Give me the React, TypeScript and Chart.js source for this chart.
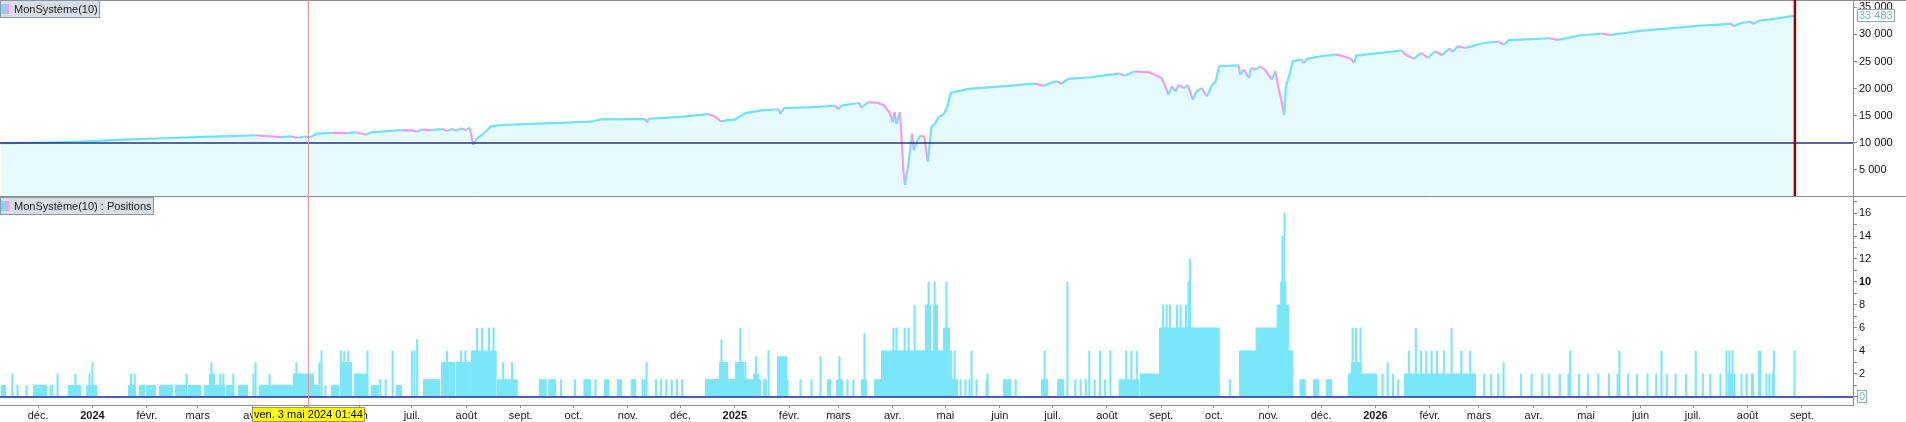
import { useEffect, useRef } from "react";
import { Chart, registerables } from "chart.js";

Chart.register(...registerables);

const FONT = "'Liberation Sans', Arial, Helvetica, sans-serif";
Chart.defaults.font.family = FONT;
Chart.defaults.font.size = 11;
Chart.defaults.color = "#111";

const CYAN = "#6fe2f6";
const PINK = "#f59bee";
const AREA = "#e6fbfe";
const BARS = "#7ae6f9";
const NAVY = "#27308f";
const FRAME = "#8d8d8d";

// x runs in days counted from 1 Jan 2024
const X_MIN = -52.7;
const X_MAX = 1003.1;
const DAY_MS = 86400000;
const EPOCH = Date.UTC(2024, 0, 1);
const SPIKE_HALF = 0.3;

const monthNames = ["janv.", "févr.", "mars", "avr.", "mai", "juin", "juil.", "août", "sept.", "oct.", "nov.", "déc."];
const equityTicks = [5000, 10000, 15000, 20000, 25000, 30000, 35000];
const positionTicks = [0, 1, 2, 3, 4, 5, 6, 7, 8, 9, 10, 11, 12, 13, 14, 15, 16, 17];
const capitalStart = 10000;
const cursorTime = Date.UTC(2024, 4, 3, 1, 44);
const cursorLabel = "ven. 3 mai 2024 01:44";
const titleEquity = "MonSystème(10)";
const titlePositions = "MonSystème(10) : Positions";

// equity curve
const equityDays = [
  -52, -29, -6, 22, 45, 62, 79, 93, 99, 108,
  113, 117, 121, 124, 128, 136, 145, 150, 156, 159,
  170, 176, 182, 185, 187, 193, 199, 202, 205, 207,
  210, 213, 215, 217, 219, 222, 227, 233, 250, 267,
  284, 290, 315, 316, 317, 335, 351, 355, 358, 362,
  366, 372, 381, 391, 392, 394, 410, 423, 425, 427,
  437, 438, 442, 448, 451, 454, 456, 457, 458, 460,
  461, 462, 463, 465, 467, 468, 470, 472, 474, 476,
  478, 480, 482, 485, 487, 489, 499, 518, 537, 542,
  546, 550, 552, 556, 569, 575, 585, 588, 594, 602,
  605, 609, 611, 613, 615, 617, 619, 622, 624, 627,
  629, 632, 635, 638, 640, 642, 653, 654, 656, 659,
  660, 663, 665, 668, 670, 672, 674, 676, 677, 679,
  680, 682, 684, 689, 690, 692, 700, 708, 712, 717,
  719, 720, 734, 746, 748, 753, 757, 761, 765, 769,
  773, 775, 778, 782, 786, 791, 801, 804, 807, 814,
  830, 835, 848, 860, 865, 883, 900, 917, 925, 934,
  935, 940, 945, 946, 950, 960, 970,
];
const equityValues = [
  9950, 10050, 10250, 10650, 10900, 11100, 11250, 11400, 11250, 11050,
  11200, 10950, 11150, 11050, 11700, 11850, 11800, 11950, 11500, 11950,
  12200, 12350, 12300, 12050, 12450, 12350, 12550, 12200, 12600, 12250,
  12650, 12350, 12800, 9600, 10800, 11500, 13000, 13300, 13500, 13700,
  13900, 14350, 14390, 13760, 14450, 14800, 15300, 14800, 13950, 14200,
  14300, 15500, 15980, 16200, 15300, 16420, 16600, 16850, 16200, 16900,
  17350, 16500, 17500, 17350, 16900, 15650, 13800, 15650, 13500, 15650,
  11100, 5000, 2200, 6500, 11700, 8600, 10500, 11400, 11100, 6500,
  12900, 13500, 14700, 15300, 16500, 19200, 19950, 20430, 20930, 20500,
  21100, 21350, 20900, 21800, 22100, 22400, 22780, 22400, 23200, 23000,
  22600, 21950, 20700, 18890, 20400, 19500, 20700, 20100, 20700, 17960,
  19500, 20100, 18600, 20700, 21350, 24130, 24300, 22600, 23500, 21950,
  23800, 23500, 24100, 23500, 22600, 21650, 23200, 19800, 18500, 15190,
  20400, 22600, 25050, 25350, 24700, 25500, 25980, 26300, 26050, 25500,
  24750, 26100, 26600, 27040, 26300, 25500, 26600, 25690, 26900, 26150,
  27400, 26800, 27830, 27500, 27830, 28330, 28700, 28100, 28950, 29050,
  29300, 29000, 29850, 30150, 29900, 30700, 31150, 31650, 31750, 32000,
  31500, 32150, 32350, 31950, 32550, 32950, 33483,
];

// periods with open positions (start day, end day, size)
const blockStart = [
  -52, -33.6, -13.7, -3.4, 20.5, 26.8, 30.8, 38.2, 47.3, 54.7,
  63.8, 66.7, 76.4, 83.2, 95.2, 114.5, 125.9, 136.2, 141.3, 149.3,
  159, 173, 188.6, 198.9, 207.4, 216, 230.8, 254.7, 260, 280,
  291.7, 299, 307, 349.3, 357.3, 361.8, 366.4, 370.9, 376.6, 382.3,
  390.3, 418.8, 424, 438.2, 445.6, 449.6, 474.6, 479.2, 484.9, 489.5,
  519.1, 540.7, 549.9, 585, 597, 608, 653.6, 663, 675, 677,
  681.5, 688, 695.7, 703, 715.7, 717.4, 747.6, 932, 945.3, 949.3,
];
const blockEnd = [
  -49.5, -26.2, -6.8, 2.3, 24.5, 29.6, 35.9, 45.6, 53.6, 61.5,
  75.2, 69.5, 80.3, 88.3, 114.5, 125.9, 129.3, 140.2, 147.6, 156.7,
  163, 176, 197.7, 206.3, 215.4, 230, 242, 258.5, 263.8, 283.8,
  294, 301.4, 309.4, 357.3, 361.8, 366.4, 370.9, 380.6, 379.5, 384,
  395.4, 420.5, 427.4, 441, 449.6, 489.5, 477.5, 481.5, 488.3, 492.9,
  523.1, 544.2, 553.3, 596, 608, 642, 663, 675, 681.5, 680,
  684, 691, 698.6, 706, 731.6, 723, 788, 934, 946.4, 950.4,
];
const blockSize = [
  1, 1, 1, 1, 1, 1, 1, 1, 1, 1,
  1, 2, 1, 1, 1, 2, 1, 1, 3, 2,
  1, 1, 1.5, 3, 3, 4, 1.5, 1.5, 1.5, 1.5,
  1.5, 1.5, 1.5, 1.5, 3, 1.5, 3, 1.5, 2, 1.5,
  3.5, 1.5, 1.5, 1.5, 1.5, 4, 8, 8, 6, 1.5,
  1.5, 1.5, 1.5, 1.5, 2, 6, 4, 6, 8, 10,
  4, 1.5, 1.5, 1.5, 2, 3, 2, 2, 2, 4,
];

// short single trades (day, size)
const spikeDays = [
  -45.6, -42.7, -37.6, -23.9, -22.8, -19.9, -9.7, -1.7, 0, 22,
  24, 53.6, 67.8, 72.9, 74.6, 80.3, 91.7, 92.9, 100.9, 116.2,
  129.3, 130.5, 132.8, 141.5, 143.5, 145.8, 156.7, 164, 167, 171,
  182, 183.5, 185, 202, 210, 212.5, 219, 222, 226, 228.5,
  234, 239, 267, 275, 286.6, 313.4, 314.5, 315.7, 321, 324,
  327, 330, 333, 336, 358.4, 369.2, 372, 378, 385.2, 396,
  403.4, 409.7, 414.8, 425.6, 430.2, 433.6, 439.9, 456.4, 458.1, 462.7,
  465, 468.4, 476.4, 479.8, 486.6, 491.2, 494.6, 497.4, 499.7, 500.9,
  503.7, 509.4, 510, 526, 542.5, 555.5, 560, 563, 566, 568,
  571, 574, 577, 580, 589, 592, 595, 610, 612, 614,
  618, 620, 623, 624.5, 625.3, 648, 678, 679.2, 718, 720,
  722.5, 735, 738, 741, 744, 750, 754, 757, 760, 763,
  766, 770, 774.4, 780, 785, 793, 797, 801, 804, 814,
  820, 826, 830, 836, 841, 842, 847, 852, 858, 864,
  869, 870, 875, 880, 886, 891, 894, 897, 902, 908,
  913.5, 917.5, 921.8, 927.6, 931, 932.7, 934.5, 935.6, 939.6, 942.5,
  953.8, 955.5, 957.3, 958, 969.8,
];
const spikeSizes = [
  2, 1, 1, 1, 1, 2, 2, 2, 3, 2,
  2, 2, 3, 2, 2, 2, 2, 3, 2, 3,
  3, 4, 1, 4, 4, 4, 4, 1.5, 1.5, 4,
  4, 4, 5, 4, 4, 4, 6, 6, 6, 6,
  3, 3, 1.5, 1.5, 1.5, 1.5, 1.5, 3, 1.5, 1.5,
  1.5, 1.5, 1.5, 1.5, 5, 6, 3, 3.5, 4, 1.5,
  1.5, 1.5, 3.5, 3.5, 1.5, 1.5, 5.5, 6, 6, 6,
  6, 8, 10, 10, 10, 4, 1.5, 1.5, 1.5, 4,
  1.5, 1.5, 2, 1.5, 4, 10, 1.5, 1.5, 1.5, 4,
  1.5, 4, 1.5, 4, 4, 4, 4, 8, 8, 8,
  8, 8, 8, 10, 12, 1.5, 14, 16, 6, 6,
  6, 2, 3, 2, 1.5, 4, 6, 4, 4, 4,
  4, 4, 6, 4, 4, 2, 2, 2, 3, 2,
  2, 2, 2, 2, 2, 4, 2, 2, 2, 2,
  2, 4, 2, 2, 2, 2, 4, 2, 2, 2,
  4, 2, 2, 2, 4, 4, 4, 2, 2, 2,
  2, 2, 2, 4, 4,
];

const fmt = (v: number) => Math.round(v).toString().replace(/\B(?=(\d{3})+(?!\d))/g, " ");

const monthTicks: { day: number; label: string; year: boolean }[] = [];
for (let m = 0; m < 40; m++) {
  const t = Date.UTC(2023, 10 + m, 1);
  const day = (t - EPOCH) / DAY_MS;
  if (day < X_MIN || day > X_MAX) continue;
  const d = new Date(t);
  const mon = d.getUTCMonth();
  monthTicks.push({ day, label: mon === 0 ? String(d.getUTCFullYear()) : monthNames[mon], year: mon === 0 });
}

function positionSteps() {
  const intervals: number[][] = [
    ...blockStart.map((s, i) => [s, blockEnd[i], blockSize[i]]),
    ...spikeDays.map((d, i) => [d - SPIKE_HALF, d + SPIKE_HALF, spikeSizes[i]]),
  ];
  const edges = Array.from(new Set(intervals.flatMap(([a, b]) => [a, b]))).sort((a, b) => a - b);
  const pts = [{ x: X_MIN, y: 0 }];
  for (let i = 0; i < edges.length - 1; i++) {
    const mid = (edges[i] + edges[i + 1]) / 2;
    let level = 0;
    for (const [a, b, v] of intervals) if (a <= mid && mid < b) level = Math.max(level, v);
    pts.push({ x: edges[i], y: level });
  }
  pts.push({ x: edges[edges.length - 1], y: 0 });
  pts.push({ x: X_MAX, y: 0 });
  return pts;
}

function legendBox(ctx: CanvasRenderingContext2D, left: number, top: number, text: string) {
  ctx.font = `11px ${FONT}`;
  const w = Math.round(ctx.measureText(text).width) + 16;
  ctx.fillStyle = "#d8dee5";
  ctx.fillRect(left, top, w, 18);
  ctx.strokeStyle = "#8a96a2";
  ctx.lineWidth = 1;
  ctx.strokeRect(left + 0.5, top + 0.5, w - 1, 17);
  ctx.fillStyle = CYAN;
  ctx.fillRect(left + 1, top + 4, 4, 10);
  ctx.fillStyle = PINK;
  ctx.fillRect(left + 5, top + 4, 4, 10);
  ctx.fillStyle = "#1a1a1a";
  ctx.textBaseline = "middle";
  ctx.textAlign = "left";
  ctx.fillText(text, left + 14, top + 9.5);
}

function valueBox(ctx: CanvasRenderingContext2D, left: number, mid: number, text: string) {
  ctx.font = `11px ${FONT}`;
  const w = Math.round(ctx.measureText(text).width) + 4;
  ctx.fillStyle = "#fff";
  ctx.fillRect(left, mid - 6.5, w, 13);
  ctx.strokeStyle = "#8fa9b0";
  ctx.lineWidth = 1;
  ctx.strokeRect(left + 0.5, Math.round(mid - 6.5) + 0.5, w - 1, 12);
  ctx.fillStyle = "#6fb6c6";
  ctx.textBaseline = "middle";
  ctx.textAlign = "left";
  ctx.fillText(text, left + 2, mid + 0.5);
}

const overlay = {
  id: "overlay",
  afterDatasetsDraw(chart: any) {
    const { ctx } = chart;
    const { x, y, y2 } = chart.scales;
    ctx.save();
    // panel frame
    ctx.strokeStyle = FRAME;
    ctx.lineWidth = 1;
    ctx.beginPath();
    ctx.moveTo(0, y.top + 0.5);
    ctx.lineTo(chart.width, y.top + 0.5);
    ctx.moveTo(0, Math.round(y.bottom) + 0.5);
    ctx.lineTo(chart.width, Math.round(y.bottom) + 0.5);
    ctx.stroke();
    // starting capital and zero lines
    ctx.strokeStyle = NAVY;
    ctx.lineWidth = 1.5;
    ctx.beginPath();
    const yRef = Math.round(y.getPixelForValue(capitalStart));
    ctx.moveTo(x.left, yRef);
    ctx.lineTo(x.right, yRef);
    const yZero = Math.round(y2.getPixelForValue(0));
    ctx.moveTo(x.left, yZero);
    ctx.lineTo(x.right, yZero);
    ctx.stroke();
    // last bar
    const xl = x.getPixelForValue(equityDays[equityDays.length - 1]);
    ctx.strokeStyle = "#990000";
    ctx.lineWidth = 2.5;
    ctx.beginPath();
    ctx.moveTo(xl, y.top);
    ctx.lineTo(xl, y.bottom);
    ctx.stroke();
    // cursor
    const xc = Math.round(x.getPixelForValue((cursorTime - EPOCH) / DAY_MS)) + 0.5;
    ctx.strokeStyle = "#e39393";
    ctx.lineWidth = 1;
    ctx.beginPath();
    ctx.moveTo(xc, y.top);
    ctx.lineTo(xc, x.top + 3);
    ctx.stroke();
    ctx.restore();
  },
  afterDraw(chart: any) {
    const { ctx } = chart;
    const { x, y, y2 } = chart.scales;
    ctx.save();
    legendBox(ctx, 0, y.top, titleEquity);
    legendBox(ctx, 0, y2.top + 1, titlePositions);
    const lastEquity = equityValues[equityValues.length - 1];
    valueBox(ctx, x.right + 4, y.getPixelForValue(lastEquity), fmt(lastEquity));
    const steps = chart.data.datasets[2].data;
    const lastPos = steps[steps.length - 1].y;
    valueBox(ctx, x.right + 4, y2.getPixelForValue(lastPos), fmt(lastPos));
    // cursor date
    const xc = x.getPixelForValue((cursorTime - EPOCH) / DAY_MS);
    ctx.font = `11px ${FONT}`;
    const w = Math.round(ctx.measureText(cursorLabel).width) + 4;
    const left = Math.round(xc - w / 2);
    const top = x.top + 2;
    ctx.fillStyle = "#ffff00";
    ctx.fillRect(left, top, w, 15);
    ctx.strokeStyle = "#9a9a60";
    ctx.strokeRect(left + 0.5, top + 0.5, w - 1, 14);
    ctx.fillStyle = "#000";
    ctx.textBaseline = "middle";
    ctx.textAlign = "left";
    ctx.fillText(cursorLabel, left + 2, top + 8);
    ctx.restore();
  },
};

const noPad = (s: any) => {
  s.paddingTop = 0;
  s.paddingBottom = 0;
  s.paddingLeft = 0;
  s.paddingRight = 0;
};

export default function App() {
  const ref = useRef<HTMLCanvasElement>(null);

  useEffect(() => {
    if (!ref.current) return;
    const equity = equityDays.map((d, i) => ({ x: d, y: equityValues[i] }));
    const chart = new Chart(ref.current, {
      type: "line",
      data: {
        datasets: [
          {
            // equity line, drawn on top of its shaded area
            data: equity,
            yAxisID: "y",
            borderColor: CYAN,
            borderWidth: 2.2,
            fill: false,
            pointRadius: 0,
            tension: 0,
            segment: {
              borderColor: (c: any) => (c.p1.parsed.y < c.p0.parsed.y ? PINK : CYAN),
            },
          },
          {
            data: equity,
            yAxisID: "y",
            borderWidth: 0,
            borderColor: "transparent",
            backgroundColor: AREA,
            fill: "start",
            pointRadius: 0,
          },
          {
            data: positionSteps(),
            yAxisID: "y2",
            borderColor: BARS,
            backgroundColor: BARS,
            borderWidth: 1,
            stepped: true,
            fill: "origin",
            pointRadius: 0,
          },
        ],
      },
      options: {
        responsive: false,
        animation: false,
        layout: { padding: 0 },
        plugins: { legend: { display: false }, tooltip: { enabled: false } },
        scales: {
          x: {
            type: "linear",
            min: X_MIN,
            max: X_MAX,
            afterBuildTicks: (s: any) => {
              s.ticks = monthTicks.map((t) => ({ value: t.day }));
            },
            afterFit: (s: any) => {
              s.height = 17;
              noPad(s);
            },
            ticks: {
              autoSkip: false,
              maxRotation: 0,
              padding: 1,
              color: "#1a1a1a",
              callback: (_v: any, i: number) => monthTicks[i]?.label ?? "",
              font: (c: any) => ({ family: FONT, size: 11, weight: monthTicks[c.index]?.year ? "bold" : "normal" }),
            },
            grid: { drawOnChartArea: false, tickLength: 3, color: FRAME },
            border: { color: FRAME },
          },
          y: {
            type: "linear",
            position: "right",
            stack: "panes",
            stackWeight: 196,
            min: 200,
            max: 36350,
            afterBuildTicks: (s: any) => {
              s.ticks = equityTicks.map((v) => ({ value: v }));
            },
            afterFit: (s: any) => {
              s.width = 53;
              noPad(s);
            },
            ticks: { autoSkip: false, padding: 2, color: "#111", callback: (v: any) => fmt(Number(v)) },
            grid: { drawOnChartArea: false, tickLength: 4, color: FRAME },
            border: { color: FRAME },
          },
          y2: {
            type: "linear",
            position: "right",
            stack: "panes",
            stackWeight: 209,
            min: -0.7,
            max: 17.48,
            afterBuildTicks: (s: any) => {
              s.ticks = positionTicks.map((v) => ({ value: v }));
            },
            afterFit: (s: any) => {
              s.width = 53;
              noPad(s);
            },
            ticks: {
              autoSkip: false,
              padding: 2,
              color: "#111",
              callback: (v: any) => (Number(v) > 0 && Number(v) % 2 === 0 ? String(v) : ""),
              font: (c: any) => ({ family: FONT, size: 11, weight: c.tick?.value === 10 ? "bold" : "normal" }),
            },
            grid: { drawOnChartArea: false, tickLength: 4, color: FRAME },
            border: { color: FRAME },
          },
        },
      },
      plugins: [overlay],
    });
    return () => chart.destroy();
  }, []);

  return (
    <div style={{ position: "fixed", left: 0, top: 0, width: 1906, height: 422, background: "#fff" }}>
      <canvas ref={ref} width={1906} height={422} />
    </div>
  );
}
